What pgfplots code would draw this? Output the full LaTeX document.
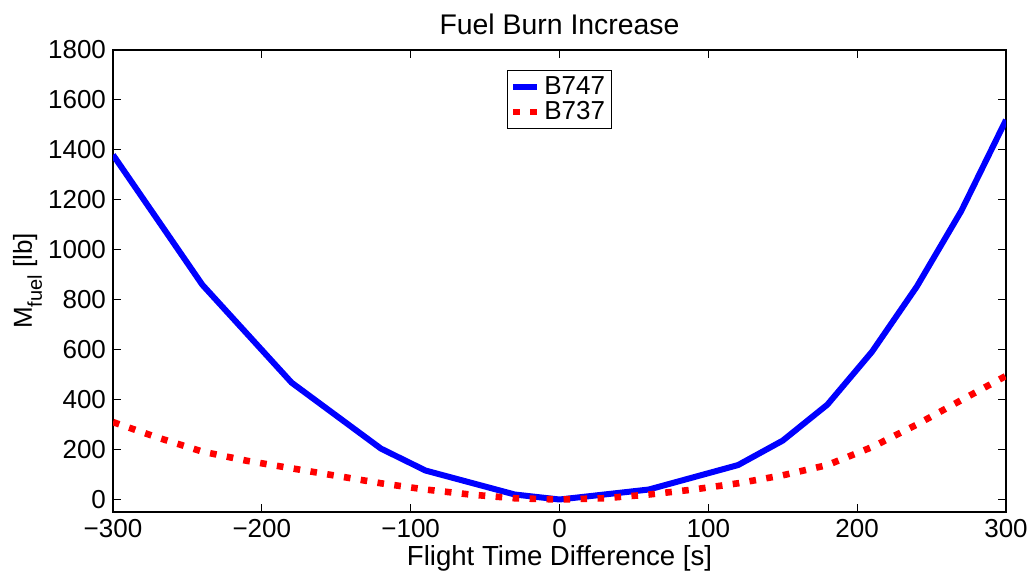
\documentclass[border=0pt]{standalone}
\usepackage{fontspec}
\setmainfont{Liberation Sans}
\usepackage{pgfplots}
\pgfplotsset{compat=1.18}

\begin{document}
\begin{tikzpicture}
\begin{axis}[
    scale only axis,
    width=446.5pt,
    height=231pt,
    xmin=-300, xmax=300,
    ymin=-50, ymax=1800,
    xtick={-300,-200,-100,0,100,200,300},
    xticklabels={−300,−200,−100,0,100,200,300},
    ytick={0,200,400,600,800,1000,1200,1400,1600,1800},
    /pgf/number format/assume math mode=true,
    /pgf/number format/1000 sep={},
    tick align=inside,
    major tick length=4pt,
    tick style={black, line width=0.5pt},
    axis line style={black, line width=0.7pt},
    tick label style={font=\fontsize{13}{15}\selectfont},
    title style={font=\fontsize{14.2}{16}\selectfont, yshift=-2pt},
    title={Fuel Burn Increase},
    xlabel={Flight Time Difference [s]},
    ylabel={M\raisebox{-5pt}{\fontsize{10}{11}\selectfont fuel} [lb]},
    xlabel style={font=\fontsize{13.8}{15}\selectfont, yshift=3pt},
    ylabel style={font=\fontsize{13}{15}\selectfont, at={(axis description cs:-0.0957,0.5)}, anchor=center, inner sep=0pt},
    legend style={at={(0.5,0.957)}, anchor=north, draw=black, line width=0.6pt,
        font=\fontsize{13}{15}\selectfont, inner sep=1pt, row sep=-2pt,
        /tikz/every even column/.append style={column sep=1pt}},
    legend cell align=left,
    legend image code/.code={\draw[#1] (0cm,0cm) -- (0.42cm,0cm);},
]
\addplot[color=blue, line width=3pt, line join=round] coordinates {
(-300,1380)
(-240,860)
(-180,468)
(-120,204)
(-90,116)
(-30,20)
(0,0)
(60,40)
(120,138)
(150,236)
(180,380)
(210,592)
(240,852)
(270,1156)
(300,1520)
};
\addlegendentry{B747}
\addplot[color=red, line width=3.3pt, dash pattern=on 3.3pt off 5.2pt] coordinates {
(-300,310)
(-270,248)
(-240,192)
(-210,155)
(-180,125)
(-150,95)
(-120,65)
(-90,40)
(-60,20)
(-30,5)
(0,0)
(30,5)
(60,20)
(90,40)
(120,65)
(150,97)
(180,138)
(210,210)
(240,300)
(270,398)
(300,495)
};
\addlegendentry{B737}
\end{axis}
\pgfresetboundingbox
\path (current axis.south west) ++(-56.5pt,-30pt) rectangle ([shift={(12pt,25pt)}]current axis.north east);
\end{tikzpicture}
\end{document}
